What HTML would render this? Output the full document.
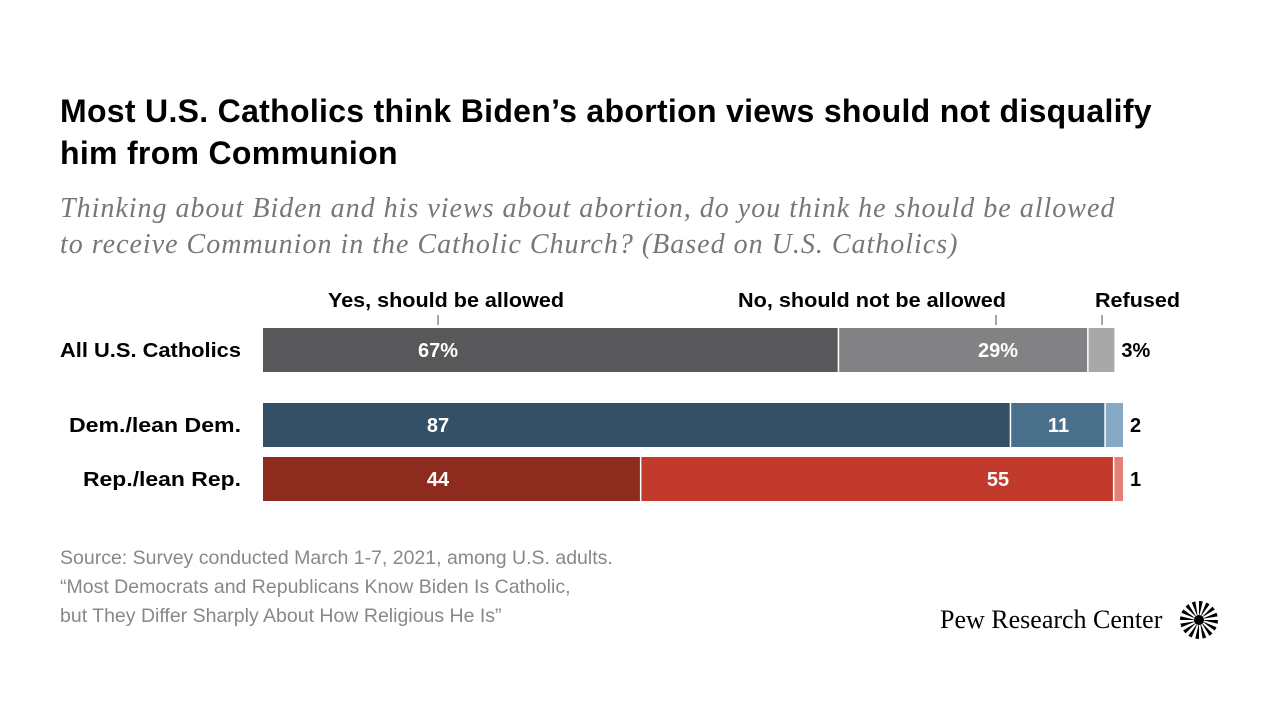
<!DOCTYPE html>
<html><head><meta charset="utf-8"><style>
body{margin:0;width:1280px;height:720px;background:#fff;overflow:hidden;font-family:"Liberation Sans",sans-serif;}
.abs{position:absolute;}
</style></head><body>
<div class="abs" style="left:60px;top:90px;font-size:32px;font-weight:bold;line-height:42px;color:#000;width:1110px;letter-spacing:0.3px">Most U.S. Catholics think Biden’s abortion views should not disqualify him from Communion</div>
<div class="abs" style="left:60px;top:191px;font-family:'Liberation Serif',serif;font-style:italic;font-size:28px;line-height:36px;color:#777;width:1080px;letter-spacing:1px">Thinking about Biden and his views about abortion, do you think he should be allowed to receive Communion in the Catholic Church? (Based on U.S. Catholics)</div>
<svg class="abs" style="left:0;top:0" width="1280" height="720" id="chart"></svg>
<div class="abs" style="left:60px;top:544px;font-size:19.5px;line-height:29px;color:#888">Source: Survey conducted March 1-7, 2021, among U.S. adults.<br>“Most Democrats and Republicans Know Biden Is Catholic,<br>but They Differ Sharply About How Religious He Is”</div>
<div class="abs" style="left:940px;top:605px;font-family:'Liberation Serif',serif;font-size:26px;color:#000">Pew Research Center</div>
<svg class="abs" style="left:1179px;top:600px" width="40" height="40" viewBox="-20 -20 40 40" id="logo"></svg>
<script>
const groups=["All U.S. Catholics","Dem./lean Dem.","Rep./lean Rep."];
const yesVals=[67,87,44];
const noVals=[29,11,55];
const refVals=[3,2,1];
const colors=[["#58585a","#828285","#a8a8ab"],["#345066","#4a6f8a","#87a9c5"],["#8d2b1f","#c13a2b","#e58075"]];
const ns="http://www.w3.org/2000/svg";
const svg=document.getElementById('chart');
const x0=263,k=8.6;
const xs=v=>x0+v*k;
const rowY=[328,403,457],bh=44;
const yesLabelX=438,noLabelX=998;
function mk(t,a,txt){const e=document.createElementNS(ns,t);for(const n in a)e.setAttribute(n,a[n]);if(txt!==undefined)e.textContent=txt;svg.appendChild(e);return e;}
groups.forEach((g,i)=>{
 const y=rowY[i];
 const segs=[yesVals[i],noVals[i],refVals[i]];
 let acc=0;
 segs.forEach((v,j)=>{
  const r=mk('rect',{x:xs(acc),y:y,width:v*k-(j<2?1.5:0),height:bh,fill:colors[i][j]});
  
  
  if(j<2){
   let lx;
   if(j===0) lx=Math.min(yesLabelX,xs(acc+v/2));
   else lx=(v*k<150)?xs(acc+v/2):Math.min(noLabelX,xs(acc+v)-90);
   const t=mk('text',{x:lx,y:y+bh/2+7,'text-anchor':'middle','font-size':20,'font-weight':'bold',fill:'#fff'},v+(i===0?'%':''));
   }
  acc+=v;
 });
 const t=mk('text',{x:xs(acc)+7,y:y+bh/2+7,'font-size':20,'font-weight':'bold',fill:'#000'},refVals[i]+(i===0?'%':''));
 
 const l=mk('text',{x:241,y:y+bh/2+7,'text-anchor':'end','font-size':20,'font-weight':'bold',fill:'#000',textLength:[181,172,158][i],lengthAdjust:'spacingAndGlyphs'},g);
 
});
const heads=["Yes, should be allowed","No, should not be allowed","Refused"];
const headX=[328,738,1095],headW=[236,268,85];
const tickX=[438,996,1102];
heads.forEach((h,j)=>{
 const t=mk('text',{x:headX[j],y:307,'font-size':20,'font-weight':'bold',fill:'#000',textLength:headW[j],lengthAdjust:'spacingAndGlyphs'},h);
 
 mk('line',{x1:tickX[j],x2:tickX[j],y1:315,y2:325,stroke:'#888','stroke-width':1.5});
});
const lg=document.getElementById('logo');
for(let a=0;a<16;a++){const p=document.createElementNS(ns,'path');const r=a*Math.PI/8;
 const c=Math.cos(r),s=Math.sin(r),c2=Math.cos(r+0.2),s2=Math.sin(r+0.2);
 p.setAttribute('d',`M${3*c} ${3*s} L${19*c} ${19*s} L${19*c2} ${19*s2} Z`);p.setAttribute('fill','#000');lg.appendChild(p);}
const cc=document.createElementNS(ns,'circle');cc.setAttribute('r',5);lg.appendChild(cc);
</script>
</body></html>
